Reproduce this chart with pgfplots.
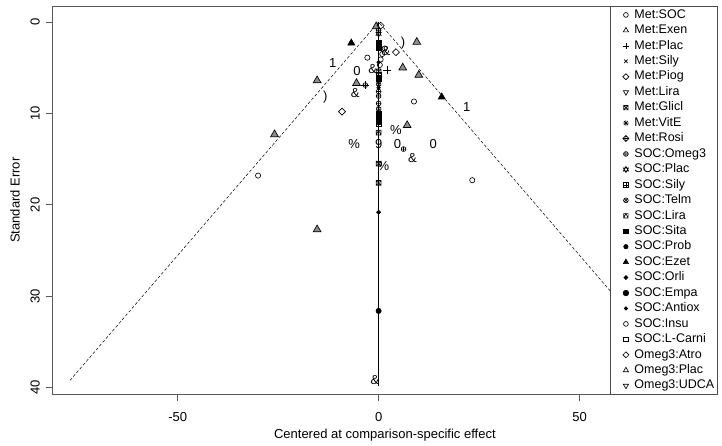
\documentclass[border=0pt]{standalone}
\usepackage{pgfplots}
\pgfplotsset{compat=1.18}
\usepackage{fontspec}
\setmainfont{Liberation Sans}
\definecolor{tgray}{rgb}{0.55,0.55,0.55}
\pgfdeclareplotmark{rdiam}{%
 \pgfpathmoveto{\pgfqpoint{0pt}{\pgfplotmarksize}}%
 \pgfpathlineto{\pgfqpoint{\pgfplotmarksize}{0pt}}%
 \pgfpathlineto{\pgfqpoint{0pt}{-\pgfplotmarksize}}%
 \pgfpathlineto{\pgfqpoint{-\pgfplotmarksize}{0pt}}%
 \pgfpathclose\pgfusepathqstroke}
\pgfdeclareplotmark{rdiam*}{%
 \pgfpathmoveto{\pgfqpoint{0pt}{\pgfplotmarksize}}%
 \pgfpathlineto{\pgfqpoint{\pgfplotmarksize}{0pt}}%
 \pgfpathlineto{\pgfqpoint{0pt}{-\pgfplotmarksize}}%
 \pgfpathlineto{\pgfqpoint{-\pgfplotmarksize}{0pt}}%
 \pgfpathclose\pgfusepathqfillstroke}
\pgfdeclareplotmark{dplus}{%
 \pgfpathmoveto{\pgfqpoint{0pt}{\pgfplotmarksize}}%
 \pgfpathlineto{\pgfqpoint{\pgfplotmarksize}{0pt}}%
 \pgfpathlineto{\pgfqpoint{0pt}{-\pgfplotmarksize}}%
 \pgfpathlineto{\pgfqpoint{-\pgfplotmarksize}{0pt}}%
 \pgfpathclose
 \pgfpathmoveto{\pgfqpoint{-\pgfplotmarksize}{0pt}}\pgfpathlineto{\pgfqpoint{\pgfplotmarksize}{0pt}}%
 \pgfpathmoveto{\pgfqpoint{0pt}{-\pgfplotmarksize}}\pgfpathlineto{\pgfqpoint{0pt}{\pgfplotmarksize}}%
 \pgfusepathqstroke}
\pgfdeclareplotmark{sqx}{%
 \pgfpathrectangle{\pgfqpoint{-\pgfplotmarksize}{-\pgfplotmarksize}}{\pgfqpoint{2\pgfplotmarksize}{2\pgfplotmarksize}}%
 \pgfpathmoveto{\pgfqpoint{-\pgfplotmarksize}{-\pgfplotmarksize}}\pgfpathlineto{\pgfqpoint{\pgfplotmarksize}{\pgfplotmarksize}}%
 \pgfpathmoveto{\pgfqpoint{-\pgfplotmarksize}{\pgfplotmarksize}}\pgfpathlineto{\pgfqpoint{\pgfplotmarksize}{-\pgfplotmarksize}}%
 \pgfusepathqstroke}
\pgfdeclareplotmark{sqplus}{%
 \pgfpathrectangle{\pgfqpoint{-\pgfplotmarksize}{-\pgfplotmarksize}}{\pgfqpoint{2\pgfplotmarksize}{2\pgfplotmarksize}}%
 \pgfpathmoveto{\pgfqpoint{-\pgfplotmarksize}{0pt}}\pgfpathlineto{\pgfqpoint{\pgfplotmarksize}{0pt}}%
 \pgfpathmoveto{\pgfqpoint{0pt}{\pgfplotmarksize}}\pgfpathlineto{\pgfqpoint{0pt}{-\pgfplotmarksize}}%
 \pgfusepathqstroke}
\pgfdeclareplotmark{sqtri}{%
 \pgfpathrectangle{\pgfqpoint{-\pgfplotmarksize}{-\pgfplotmarksize}}{\pgfqpoint{2\pgfplotmarksize}{2\pgfplotmarksize}}%
 \pgfpathmoveto{\pgfqpoint{-\pgfplotmarksize}{-\pgfplotmarksize}}\pgfpathlineto{\pgfqpoint{0pt}{\pgfplotmarksize}}%
 \pgfpathlineto{\pgfqpoint{\pgfplotmarksize}{-\pgfplotmarksize}}%
 \pgfusepathqstroke}
\pgfdeclareplotmark{ast8}{%
 \pgfpathmoveto{\pgfqpoint{-\pgfplotmarksize}{0pt}}\pgfpathlineto{\pgfqpoint{\pgfplotmarksize}{0pt}}%
 \pgfpathmoveto{\pgfqpoint{0pt}{\pgfplotmarksize}}\pgfpathlineto{\pgfqpoint{0pt}{-\pgfplotmarksize}}%
 \pgfpathmoveto{\pgfqpoint{-0.707\pgfplotmarksize}{-0.707\pgfplotmarksize}}\pgfpathlineto{\pgfqpoint{0.707\pgfplotmarksize}{0.707\pgfplotmarksize}}%
 \pgfpathmoveto{\pgfqpoint{-0.707\pgfplotmarksize}{0.707\pgfplotmarksize}}\pgfpathlineto{\pgfqpoint{0.707\pgfplotmarksize}{-0.707\pgfplotmarksize}}%
 \pgfusepathqstroke}
\pgfdeclareplotmark{david}{%
 \pgfpathmoveto{\pgfqpoint{0pt}{\pgfplotmarksize}}%
 \pgfpathlineto{\pgfqpoint{-0.866\pgfplotmarksize}{-0.5\pgfplotmarksize}}%
 \pgfpathlineto{\pgfqpoint{0.866\pgfplotmarksize}{-0.5\pgfplotmarksize}}\pgfpathclose
 \pgfpathmoveto{\pgfqpoint{0pt}{-\pgfplotmarksize}}%
 \pgfpathlineto{\pgfqpoint{-0.866\pgfplotmarksize}{0.5\pgfplotmarksize}}%
 \pgfpathlineto{\pgfqpoint{0.866\pgfplotmarksize}{0.5\pgfplotmarksize}}\pgfpathclose
 \pgfusepathqstroke}
\pgfdeclareplotmark{tridown}{%
 \pgfpathmoveto{\pgfqpoint{0pt}{-\pgfplotmarksize}}%
 \pgfpathlineto{\pgfqpoint{-0.866\pgfplotmarksize}{0.5\pgfplotmarksize}}%
 \pgfpathlineto{\pgfqpoint{0.866\pgfplotmarksize}{0.5\pgfplotmarksize}}\pgfpathclose
 \pgfusepathqstroke}
\newcommand{\fs}{\fontsize{13}{13}\selectfont}
\newcommand{\fl}{\fontsize{12.5}{12.5}\selectfont}
\begin{document}
\begin{tikzpicture}
\useasboundingbox (0,0) rectangle (722pt,446pt);
\begin{axis}[at={(52.7pt,51.7pt)}, anchor=south west, scale only axis,
  width=664.3pt, height=388.3pt,
  xmin=-81.1, xmax=84.2, ymin=-1.75, ymax=40.72, y dir=reverse,
  xtick={-50,0,50}, ytick={0,10,20,30,40},
  /pgf/number format/assume math mode=true,
  tick align=outside, major tick length=7pt,
  xtick pos=left, ytick pos=left,
  axis line style={black!65, line width=0.8pt},
  tick style={black!65, line width=0.8pt},
  tick label style={font=\fs},
  label style={font=\fs},
  yticklabel style={rotate=90, anchor=south},
  yticklabel shift=2.5pt,
  xticklabel shift=8pt,
  xlabel={Centered at comparison-specific effect},
  ylabel={Standard Error},
  xlabel style={at={(axis description cs:0.5,0)}, anchor=center, yshift=-40.7pt},
  ylabel style={at={(axis description cs:-0.0568,0.5)}, anchor=center},
  mark size=2.6pt,
  every axis plot/.append style={black, line width=0.65pt},
  legend cell align=left,
  legend image code/.code={\path[draw=none, fill=none] (-6pt,0pt) -- (16pt,0pt); \draw[#1, only marks] plot coordinates {(9pt,0pt)};},
  legend style={at={(1,1)}, anchor=north east, draw=black!70, fill=white,
    inner sep=1pt, font=\fl, row sep=0pt,
    nodes={inner sep=1.5pt, text height=9.45pt, text depth=3pt},
    /tikz/every even column/.append style={column sep=2pt}},
]
% funnel lines
\addplot[forget plot, dashed, dash pattern=on 3pt off 2pt, line width=0.5pt] coordinates {(-76.8,39.2) (0,0) (76.8,39.2)};
\addplot[forget plot, solid, line width=0.8pt] coordinates {(0,0) (0,39.8)};
% open circles
\addplot[forget plot, only marks, mark=o] coordinates {
(-2.8,3.9) (8.8,8.7) (-30,16.8) (23.3,17.3) (1.5,2.9) (0.9,3.5) (0.5,4.1) (0.3,4.7)};
% gray-filled triangles
\addplot[forget plot, only marks, mark=triangle*, mark size=4.5pt, mark options={fill=tgray, draw=black}] coordinates {
(9.5,2.2) (6.0,5.0) (10.0,5.8) (-15.3,6.4) (-5.5,6.7) (7.1,11.3) (-25.9,12.3) (-15.3,22.7) (-0.6,0.5)};
% filled triangles
\addplot[forget plot, only marks, mark=triangle*, mark size=4pt] coordinates {(-6.8,2.3) (15.7,8.2)};
% diamonds
\addplot[forget plot, only marks, mark=rdiam, mark size=3.5pt] coordinates {(4.3,3.3) (-9.1,9.8) (0.5,0.4)};
% plus
\addplot[forget plot, only marks, mark=+, mark size=4pt] coordinates {(2.2,5.3) (-3.3,6.9)};
% oplus
\addplot[forget plot, only marks, mark=oplus, mark size=2.4pt] coordinates {(-3.3,6.9) (6.2,13.9) (0,7.6) (0,8.1) (0,8.9) (0,0.9)};
% star of David
\addplot[forget plot, only marks, mark=david, mark size=3pt] coordinates {(0,1.3)};
% filled squares
\addplot[forget plot, only marks, mark=square*, mark size=2.3pt] coordinates {(0,2.3) (0,2.8) (0,6.2) (0,10.0) (0,10.4) (0,10.8)};
% other on-line symbols
\addplot[forget plot, only marks, mark=sqx, mark size=2.4pt] coordinates {(0,5.4) (0,15.5) (0,17.6)};
\addplot[forget plot, only marks, mark=sqplus, mark size=2.4pt] coordinates {(0,5.8) (0,11.2)};
\addplot[forget plot, only marks, mark=otimes, mark size=2.4pt] coordinates {(0,6.8) (0,9.5)};
\addplot[forget plot, only marks, mark=sqtri, mark size=2.4pt] coordinates {(0,12.1)};
\addplot[forget plot, only marks, mark=rdiam*, mark size=2pt] coordinates {(0,20.8)};
\addplot[forget plot, only marks, mark=*, mark size=2.6pt] coordinates {(0,31.6)};
\addplot[forget plot, only marks, mark=*, mark size=1.8pt] coordinates {(0,4.4) (0,7.2)};
% text characters
\addplot[forget plot, only marks, mark=text, text mark={\fs 1}] coordinates {(-11.4,4.5) (21.9,9.3)};
\addplot[forget plot, only marks, mark=text, text mark={\fs 0}] coordinates {(-5.4,5.4) (4.7,13.3) (13.6,13.3)};
\addplot[forget plot, only marks, mark=text, text mark={\fs )}] coordinates {(6.1,2.3) (-13.3,8.2)};
\addplot[forget plot, only marks, mark=text, text mark={\fs \%}] coordinates {(4.3,11.8) (-6.1,13.4) (1.2,15.8)};
\addplot[forget plot, only marks, mark=text, text mark={\fs \&}] coordinates {(-5.8,7.8) (8.4,14.9) (-0.9,39.2) (1.8,3.2) (-1.5,5.2)};
\addplot[forget plot, only marks, mark=text, text mark={\fs 9}] coordinates {(0,13.4)};
% legend
\addlegendimage{only marks, mark=o, mark size=2.4pt}\addlegendentry{Met:SOC}
\addlegendimage{only marks, mark=triangle, mark size=3pt}\addlegendentry{Met:Exen}
\addlegendimage{only marks, mark=+, mark size=3pt}\addlegendentry{Met:Plac}
\addlegendimage{only marks, mark=x, mark size=2.5pt}\addlegendentry{Met:Sily}
\addlegendimage{only marks, mark=rdiam, mark size=3pt}\addlegendentry{Met:Piog}
\addlegendimage{only marks, mark=tridown, mark size=3pt}\addlegendentry{Met:Lira}
\addlegendimage{only marks, mark=sqx, mark size=2.2pt}\addlegendentry{Met:Glicl}
\addlegendimage{only marks, mark=ast8, mark size=3pt}\addlegendentry{Met:VitE}
\addlegendimage{only marks, mark=dplus, mark size=3pt}\addlegendentry{Met:Rosi}
\addlegendimage{only marks, mark=oplus, mark size=2.4pt}\addlegendentry{SOC:Omeg3}
\addlegendimage{only marks, mark=david, mark size=3pt}\addlegendentry{SOC:Plac}
\addlegendimage{only marks, mark=sqplus, mark size=2.2pt}\addlegendentry{SOC:Sily}
\addlegendimage{only marks, mark=otimes, mark size=2.4pt}\addlegendentry{SOC:Telm}
\addlegendimage{only marks, mark=sqtri, mark size=2.2pt}\addlegendentry{SOC:Lira}
\addlegendimage{only marks, mark=square*, mark size=2.2pt}\addlegendentry{SOC:Sita}
\addlegendimage{only marks, mark=*, mark size=2.2pt}\addlegendentry{SOC:Prob}
\addlegendimage{only marks, mark=triangle*, mark size=3pt}\addlegendentry{SOC:Ezet}
\addlegendimage{only marks, mark=rdiam*, mark size=2pt}\addlegendentry{SOC:Orli}
\addlegendimage{only marks, mark=*, mark size=2.8pt}\addlegendentry{SOC:Empa}
\addlegendimage{only marks, mark=*, mark size=1.7pt}\addlegendentry{SOC:Antiox}
\addlegendimage{only marks, mark=o, mark size=2.4pt}\addlegendentry{SOC:Insu}
\addlegendimage{only marks, mark=square, mark size=2.2pt}\addlegendentry{SOC:L-Carni}
\addlegendimage{only marks, mark=rdiam, mark size=3pt}\addlegendentry{Omeg3:Atro}
\addlegendimage{only marks, mark=triangle, mark size=3pt}\addlegendentry{Omeg3:Plac}
\addlegendimage{only marks, mark=tridown, mark size=3pt}\addlegendentry{Omeg3:UDCA}
\end{axis}
\end{tikzpicture}
\end{document}
